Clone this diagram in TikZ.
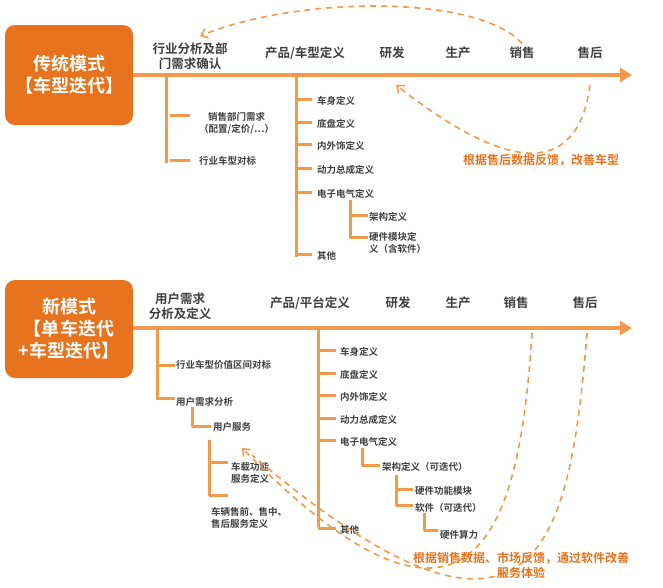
\documentclass[tikz,border=0pt]{standalone}
\usepackage{fontspec}
\setmainfont{Noto Sans CJK SC}[BoldFont={Noto Sans CJK SC Bold}]
\definecolor{deeporange}{HTML}{E8731E}
\definecolor{lightorange}{HTML}{F2994A}
\tikzset{
    modebox/.style={fill=deeporange, rounded corners=10pt, text=white, font=\bfseries\fontsize{18}{22}\selectfont, align=center},
    stage/.style={font=\bfseries\fontsize{12.5}{15}\selectfont, text=black!75, align=center},
    item/.style={font=\bfseries\fontsize{9.5}{12}\selectfont, text=black!75, anchor=west, align=left, inner sep=1pt},
    branch/.style={lightorange, line width=3pt},
    feedback/.style={lightorange, line width=1.6pt, dash pattern=on 6pt off 5pt, -{Straight Barb[length=6pt,width=10pt]}},
    note/.style={font=\bfseries\fontsize{12}{15}\selectfont, text=deeporange, align=center},
}
\usetikzlibrary{arrows.meta}
\begin{document}
\begin{tikzpicture}[x=1pt, y=-1pt]
    \useasboundingbox (0, 0) rectangle (663, 587);
    % traditional mode
    \node[modebox, minimum width=128pt, minimum height=100pt] (oldbox) at (69, 75) {传统模式\\【车型迭代】};
    \coordinate (oldend) at (632, 75);
    \draw[lightorange, line width=4pt, -{Triangle[length=12pt,width=14pt]}] (oldbox.east) -- (oldend);
    \node[stage] (oldA) at (190, 56) {行业分析及部\\门需求确认};
    \node[stage] (oldB) at (305, 53) {产品/车型定义};
    \node[stage] (oldC) at (392, 53) {研发};
    \node[stage] (oldD) at (458, 53) {生产};
    \node[stage] (oldE) at (522, 53) {销售};
    \node[stage] (oldF) at (590, 53) {售后};
    \draw[branch] (166, 75) -- (166, 163);
    \draw[branch] (170, 115) -- (190, 115);
    \draw[branch] (170, 160) -- (190, 160);
    \node[item, align=center] (oldA1) at (198, 123) {销售部门需求\\（配置/定价/…）};
    \node[item] (oldA2) at (198, 161) {行业车型对标};
    \draw[branch] (296, 75) -- (296, 257);
    \foreach \y/\t in {101/车身定义, 124/底盘定义, 146/内外饰定义, 170/动力总成定义, 194/电子电气定义, 256/其他} {
        \draw[branch] (296, \y-2) -- (312, \y-2);
        \node[item] at (316, \y) {\t};
    }
    \draw[branch] (350, 200) -- (350, 238);
    \draw[branch] (350, 215) -- (368, 215);
    \draw[branch] (350, 237) -- (368, 237);
    \node[item] (oldB1) at (368, 217) {架构定义};
    \node[item] (oldB2) at (368, 243) {硬件模块定\\义（含软件）};
    \draw[feedback] (oldE.north) .. controls (480, -5) and (300, -5) .. (200, 36);
    \draw[feedback] (590, 85) .. controls (580, 160) and (530, 190) .. (396, 85);
    \node[note] (oldnote) at (541, 160) {根据售后数据反馈，改善车型};
    % new mode
    \node[modebox, minimum width=128pt, minimum height=98pt] (newbox) at (69, 329) {新模式\\【单车迭代\\+车型迭代】};
    \coordinate (newend) at (632, 328);
    \draw[lightorange, line width=4pt, -{Triangle[length=12pt,width=14pt]}] (newbox.east |- newend) -- (newend);
    \node[stage] (newA) at (180, 306) {用户需求\\分析及定义};
    \node[stage] (newB) at (310, 303) {产品/平台定义};
    \node[stage] (newC) at (398, 303) {研发};
    \node[stage] (newD) at (458, 303) {生产};
    \node[stage] (newE) at (516, 303) {销售};
    \node[stage] (newF) at (585, 303) {售后};
    \draw[branch] (157, 328) -- (157, 400);
    \draw[branch] (157, 365) -- (175, 365);
    \draw[branch] (157, 398) -- (175, 398);
    \node[item] (newA1) at (175, 365) {行业车型价值区间对标};
    \node[item] (newA2) at (175, 402) {用户需求分析};
    \draw[branch] (192, 407) -- (192, 427);
    \draw[branch] (192, 426) -- (211, 426);
    \node[item] (newA3) at (212, 427) {用户服务};
    \draw[branch] (209, 440) -- (209, 496);
    \draw[branch] (209, 462) -- (228, 462);
    \draw[branch] (209, 495) -- (228, 495);
    \node[item] (newA4) at (230, 473) {车载功能\\服务定义};
    \node[item] (newA5) at (210, 518) {车辆售前、售中、\\售后服务定义};
    \draw[branch] (318, 328) -- (318, 527);
    \foreach \y/\t in {352/车身定义, 375/底盘定义, 397/内外饰定义, 420/动力总成定义, 442/电子电气定义, 530/其他} {
        \draw[branch] (318, \y-2) -- (336, \y-2);
        \node[item] at (339, \y) {\t};
    }
    \draw[branch] (362, 448) -- (362, 466);
    \draw[branch] (362, 465) -- (380, 465);
    \node[item] (newB1) at (381, 467) {架构定义（可迭代）};
    \draw[branch] (396, 475) -- (396, 506);
    \draw[branch] (396, 489) -- (413, 489);
    \draw[branch] (396, 505) -- (413, 505);
    \node[item] (newB2) at (414, 491) {硬件功能模块};
    \node[item] (newB3) at (414, 508) {软件（可迭代）};
    \draw[branch] (424, 513) -- (424, 531);
    \draw[branch] (424, 530) -- (438, 530);
    \node[item] (newB4) at (439, 535) {硬件算力};
    \draw[feedback] (532, 333) .. controls (520, 520) and (480, 690) .. (242, 448);
    \draw[feedback, -] (587, 333) .. controls (570, 540) and (540, 700) .. (252, 455);
    \node[note] (newnote) at (521, 565) {根据销售数据、市场反馈，通过软件改善\\服务体验};
\end{tikzpicture}
\end{document}
